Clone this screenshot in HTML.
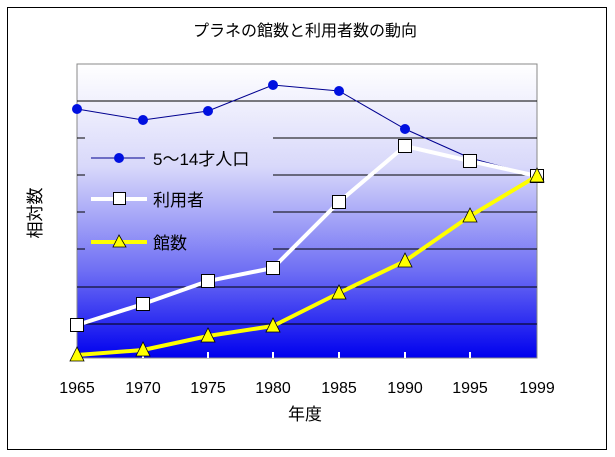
<!DOCTYPE html>
<html><head><meta charset="utf-8"><style>
body{margin:0;background:#fff;}
svg{display:block;font-family:"Liberation Sans","Noto Sans CJK JP",sans-serif;}
</style></head><body>
<svg width="615" height="457" viewBox="0 0 615 457">
<defs>
<linearGradient id="g" x1="0" y1="0" x2="0" y2="1">
<stop offset="0" stop-color="#ffffff"/>
<stop offset="0.35" stop-color="#d8d8fa"/>
<stop offset="0.7" stop-color="#7070f4"/>
<stop offset="1" stop-color="#0000ee"/>
</linearGradient>
</defs>
<rect x="7.5" y="7.5" width="599" height="442" fill="#fff" stroke="#000"/>
<text x="305" y="36" font-size="16" text-anchor="middle">プラネの館数と利用者数の動向</text>
<rect x="77" y="64" width="460" height="294" fill="url(#g)" stroke="#888"/>
<g stroke="#000" stroke-width="1">
<line x1="77" y1="101" x2="537" y2="101"/>
<line x1="273" y1="138" x2="537" y2="138"/><line x1="77" y1="138" x2="85" y2="138"/>
<line x1="273" y1="175" x2="537" y2="175"/><line x1="77" y1="175" x2="85" y2="175"/>
<line x1="273" y1="212" x2="537" y2="212"/><line x1="77" y1="212" x2="85" y2="212"/>
<line x1="273" y1="249" x2="537" y2="249"/><line x1="77" y1="249" x2="85" y2="249"/>
<line x1="77" y1="287" x2="537" y2="287"/>
<line x1="77" y1="324" x2="537" y2="324"/>
</g>
<g stroke="#fff" stroke-width="2">
<line x1="143" y1="352" x2="143" y2="358"/><line x1="208" y1="352" x2="208" y2="358"/>
<line x1="273" y1="352" x2="273" y2="358"/><line x1="339" y1="352" x2="339" y2="358"/>
<line x1="405" y1="352" x2="405" y2="358"/><line x1="470" y1="352" x2="470" y2="358"/>
</g>
<polyline points="77,109 143,120 208,111 273,85 339,91 405,129 470,158 537,176" fill="none" stroke="#000090" stroke-width="1"/>
<g fill="#0010e0">
<circle cx="77" cy="109" r="5"/><circle cx="143" cy="120" r="5"/><circle cx="208" cy="111" r="5"/><circle cx="273" cy="85" r="5"/><circle cx="339" cy="91" r="5"/><circle cx="405" cy="129" r="5"/>
</g>
<polyline points="77,325 143,304 208,281 273,268 339,202 405,146 470,161 537,176" fill="none" stroke="#fff" stroke-width="4"/>
<g fill="#fff" stroke="#000">
<rect x="70.5" y="318.5" width="13" height="13"/><rect x="136.5" y="297.5" width="13" height="13"/><rect x="201.5" y="274.5" width="13" height="13"/><rect x="266.5" y="261.5" width="13" height="13"/><rect x="332.5" y="195.5" width="13" height="13"/><rect x="398.5" y="139.5" width="13" height="13"/><rect x="463.5" y="154.5" width="13" height="13"/><rect x="530.5" y="169.5" width="13" height="13"/>
</g>
<polyline points="77,355 143,350 208,336 273,326 339,293 405,261 470,216 537,176" fill="none" stroke="#ffff00" stroke-width="4"/>
<g fill="#ffff00" stroke="#000" stroke-width="0.8">
<polygon points="77,347 70,361 84,361"/><polygon points="143,342 136,356 150,356"/><polygon points="208,328 201,342 215,342"/><polygon points="273,318 266,332 280,332"/><polygon points="339,285 332,299 346,299"/><polygon points="405,253 398,267 412,267"/><polygon points="470,208 463,222 477,222"/><polygon points="537,168 530,182 544,182"/>
</g>
<!-- legend -->
<line x1="91" y1="158" x2="145" y2="158" stroke="#000090"/>
<circle cx="119" cy="158" r="5" fill="#0010e0"/>
<text x="153" y="165" font-size="17">5～14才人口</text>
<line x1="91" y1="199" x2="147" y2="199" stroke="#fff" stroke-width="4"/>
<rect x="113.5" y="192.5" width="12" height="12" fill="#fff" stroke="#000"/>
<text x="153" y="206" font-size="17">利用者</text>
<line x1="91" y1="242" x2="147" y2="242" stroke="#ffff00" stroke-width="4"/>
<polygon points="119,235 113,247 126,247" fill="#ffff00" stroke="#000" stroke-width="0.8"/>
<text x="153" y="249" font-size="17">館数</text>
<g font-size="16" text-anchor="middle">
<text x="77" y="393">1965</text><text x="143" y="393">1970</text><text x="208" y="393">1975</text><text x="273" y="393">1980</text><text x="339" y="393">1985</text><text x="405" y="393">1990</text><text x="470" y="393">1995</text><text x="537" y="393">1999</text>
<text x="305" y="420" font-size="17">年度</text>
</g>
<text x="0" y="0" font-size="17" text-anchor="middle" transform="translate(41,213) rotate(-90)">相対数</text>
</svg>
</body></html>
